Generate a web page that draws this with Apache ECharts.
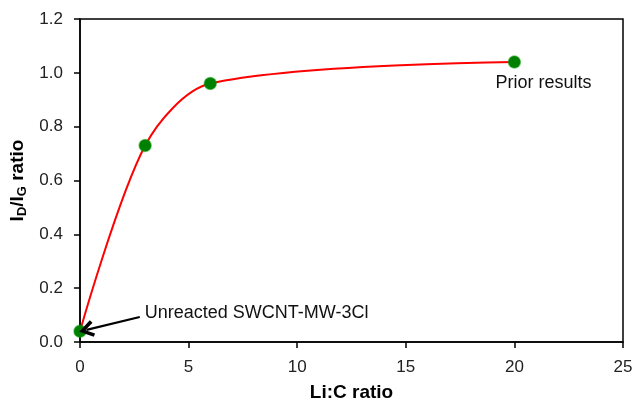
<!DOCTYPE html>
<html>
<head>
<meta charset="utf-8">
<script src="https://cdn.jsdelivr.net/npm/echarts@6/dist/echarts.min.js"></script>
<style>
  html, body { margin: 0; padding: 0; background: #fff; }
  #chart { width: 635px; height: 403px; }
</style>
</head>
<body>
<div id="chart"></div>
<script>
// Li:C ratio vs ID/IG
var liC = [0, 3, 6, 20];
var idIg = [0.04, 0.73, 0.96, 1.04];
var pointNotes = ['Unreacted SWCNT-MW-3Cl', '', '', 'Prior results'];
// arrow for the first note, in data units (from, to)
var arrowFrom = [2.75, 0.093];
var arrowTo = [0.3, 0.045];

var font = 'Liberation Sans, Arial, sans-serif';

var seriesData = liC.map(function (x, i) {
  var item = { value: [x, idIg[i]] };
  if (i === 0) {
    item.label = { show: true, position: 'right', offset: [53, -18], formatter: pointNotes[i] };
  }
  if (i === 3) {
    item.label = { show: true, position: 'bottom', offset: [29, 0], formatter: pointNotes[i] };
  }
  return item;
});

var myChart = echarts.init(document.getElementById('chart'));
myChart.setOption({
  animation: false,
  grid: {
    left: 80,
    top: 19,
    right: 12,
    bottom: 61,
    outerBoundsMode: 'none',
    containLabel: false,
    show: true,
    borderColor: '#000',
    borderWidth: 1.5
  },
  xAxis: {
    type: 'value',
    min: 0,
    max: 25,
    interval: 5,
    name: 'Li:C ratio',
    nameLocation: 'middle',
    nameGap: 41,
    nameTextStyle: { fontFamily: font, fontSize: 19, fontWeight: 'bold', color: '#000' },
    axisLine: { show: true, onZero: false, lineStyle: { color: '#000', width: 1.5 } },
    axisTick: { show: true, inside: false, length: 6, lineStyle: { color: '#000', width: 1.5 } },
    axisLabel: { margin: 17, fontFamily: font, fontSize: 17, color: '#222' },
    splitLine: { show: false }
  },
  yAxis: {
    type: 'value',
    min: 0,
    max: 1.2,
    interval: 0.2,
    name: '{b|I}{s|D}{b|/I}{s|G}{b| ratio}',
    nameLocation: 'middle',
    nameGap: 48,
    nameTextStyle: {
      color: '#000',
      rich: {
        b: { fontFamily: font, fontSize: 19, fontWeight: 'bold', color: '#000', lineHeight: 22 },
        s: { fontFamily: font, fontSize: 13, fontWeight: 'bold', color: '#000', padding: [9, 0, 0, 0], lineHeight: 22 }
      }
    },
    axisLine: { show: true, lineStyle: { color: '#000', width: 1.5 } },
    axisTick: { show: true, inside: false, length: 6, lineStyle: { color: '#000', width: 1.5 } },
    axisLabel: {
      margin: 17,
      fontFamily: font,
      fontSize: 17,
      color: '#222',
      formatter: function (v) { return v.toFixed(1); }
    },
    splitLine: { show: false }
  },
  series: [
    {
      type: 'line',
      data: seriesData,
      smooth: 0.3,
      symbol: 'circle',
      symbolSize: 12,
      itemStyle: { color: '#008000', borderColor: 'rgba(0,150,0,0.5)', borderWidth: 1.5 },
      lineStyle: { color: '#ff0000', width: 2 },
      label: { fontFamily: font, fontSize: 18, color: '#111' },
      markLine: {
        silent: true,
        symbol: ['none', 'path://M5,0 L10,8.6 L8.2,10 L5,4.2 L1.8,10 L0,8.6 Z'],
        symbolSize: [17, 15],
        label: { show: false },
        lineStyle: { color: '#000', width: 2.2, type: 'solid' },
        data: [[{ coord: arrowFrom }, { coord: arrowTo }]]
      },
      z: 3
    }
  ]
});
</script>
</body>
</html>
